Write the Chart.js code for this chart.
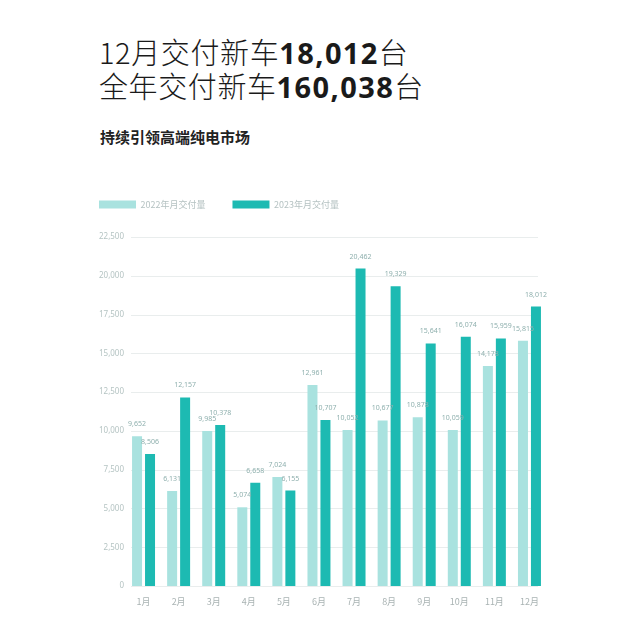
<!DOCTYPE html>
<html>
<head>
<meta charset="utf-8">
<script src="https://cdn.jsdelivr.net/npm/chart.js@4.4.1/dist/chart.umd.min.js"></script>
<style>
  html, body { margin: 0; padding: 0; background: #ffffff; }
  body { width: 640px; height: 621px; position: relative; overflow: hidden; font-family: "Noto Sans CJK SC", "Noto Sans", sans-serif; }
  .t { position: absolute; left: 99px; white-space: nowrap; color: #1a1a1a; font-size: 29px; font-weight: 300; line-height: 1; letter-spacing: 0.6px; }
  .t b { font-weight: 700; font-family: "Noto Sans", "Noto Sans CJK SC", sans-serif; letter-spacing: 1.4px; }
  .t1 { top: 37px; }
  .t2 { top: 71px; }
  .sub { position: absolute; left: 100px; top: 129px; font-size: 15px; font-weight: 700; color: #222; white-space: nowrap; line-height: 1; }
  #wrap { position: absolute; left: 0; top: 173px; width: 640px; height: 448px; }
</style>
</head>
<body>
<div class="t t1">12月交付新车<b>18,012</b>台</div>
<div class="t t2">全年交付新车<b>160,038</b>台</div>
<div class="sub">持续引领高端纯电市场</div>
<div id="wrap"><canvas id="c" width="640" height="448"></canvas></div>
<script>
const categories = ["1月","2月","3月","4月","5月","6月","7月","8月","9月","10月","11月","12月"];
const seriesNames = ["2022年月交付量", "2023年月交付量"];
const deliveries2022 = [9652, 6131, 9985, 5074, 7024, 12961, 10052, 10677, 10878, 10059, 14178, 15815];
const deliveries2023 = [8506, 12157, 10378, 6658, 6155, 10707, 20462, 19329, 15641, 16074, 15959, 18012];
const yTicks = [0, 2500, 5000, 7500, 10000, 12500, 15000, 17500, 20000, 22500];

const fmt = v => v.toLocaleString('en-US');

const gridPlugin = {
  id: 'customGrid',
  beforeDatasetsDraw(chart) {
    const {ctx, chartArea, scales: {y}} = chart;
    ctx.save();
    ctx.strokeStyle = '#e9eded';
    ctx.lineWidth = 1;
    y.ticks.forEach(t => {
      const py = Math.round(y.getPixelForValue(t.value)) + 0.5;
      ctx.beginPath();
      ctx.moveTo(chartArea.left + 5, py);
      ctx.lineTo(chartArea.right - 9, py);
      ctx.stroke();
    });
    ctx.restore();
  }
};

const labelPlugin = {
  id: 'valueLabels',
  afterDatasetsDraw(chart) {
    const {ctx} = chart;
    ctx.save();
    ctx.font = '7px "Noto Sans", sans-serif';
    ctx.fillStyle = '#8fb0ae';
    ctx.textAlign = 'center';
    ctx.textBaseline = 'middle';
    chart.data.datasets.forEach((ds, di) => {
      chart.getDatasetMeta(di).data.forEach((bar, i) => {
        ctx.fillText(fmt(ds.data[i]), bar.x, bar.y - 12);
      });
    });
    ctx.restore();
  }
};

const legendFitPlugin = {
  id: 'legendFit',
  beforeInit(chart) {
    const orig = chart.legend.fit;
    chart.legend.fit = function () {
      orig.call(this);
      this.height = 64;
    };
  }
};

new Chart(document.getElementById('c'), {
  type: 'bar',
  data: {
    labels: categories,
    datasets: [
      { label: seriesNames[0], data: deliveries2022, backgroundColor: '#a9e2df', borderWidth: 0 },
      { label: seriesNames[1], data: deliveries2023, backgroundColor: '#1dbab2', borderWidth: 0 }
    ]
  },
  options: {
    responsive: false,
    animation: false,
    devicePixelRatio: 1,
    layout: { padding: { left: 72, right: 93, top: 0, bottom: 0 } },
    datasets: { bar: { categoryPercentage: 0.74, barPercentage: 0.77 } },
    plugins: {
      legend: {
        position: 'top',
        align: 'start',
        labels: {
          boxWidth: 37,
          boxHeight: 8,
          padding: 27,
          color: '#b5c2c2',
          font: { size: 9, family: '"Noto Sans CJK SC", "Noto Sans", sans-serif' }
        }
      },
      tooltip: { enabled: false }
    },
    scales: {
      x: {
        grid: { display: false, drawTicks: false },
        border: { display: false },
        ticks: { color: '#a9b3b3', padding: 10, font: { size: 9, family: '"Noto Sans CJK SC", "Noto Sans", sans-serif' } },
        afterFit(scale) { scale.height = 35; }
      },
      y: {
        min: 0,
        max: 22500,
        grid: { display: false, drawTicks: false },
        border: { display: false },
        afterBuildTicks(scale) { scale.ticks = yTicks.map(v => ({ value: v })); },
        ticks: {
          color: '#b5c4c3',
          padding: 2,
          font: { size: 8, family: '"Noto Sans", sans-serif' },
          callback: v => fmt(v)
        },
        afterFit(scale) { scale.width = 54; }
      }
    }
  },
  plugins: [gridPlugin, labelPlugin, legendFitPlugin]
});
</script>
</body>
</html>
